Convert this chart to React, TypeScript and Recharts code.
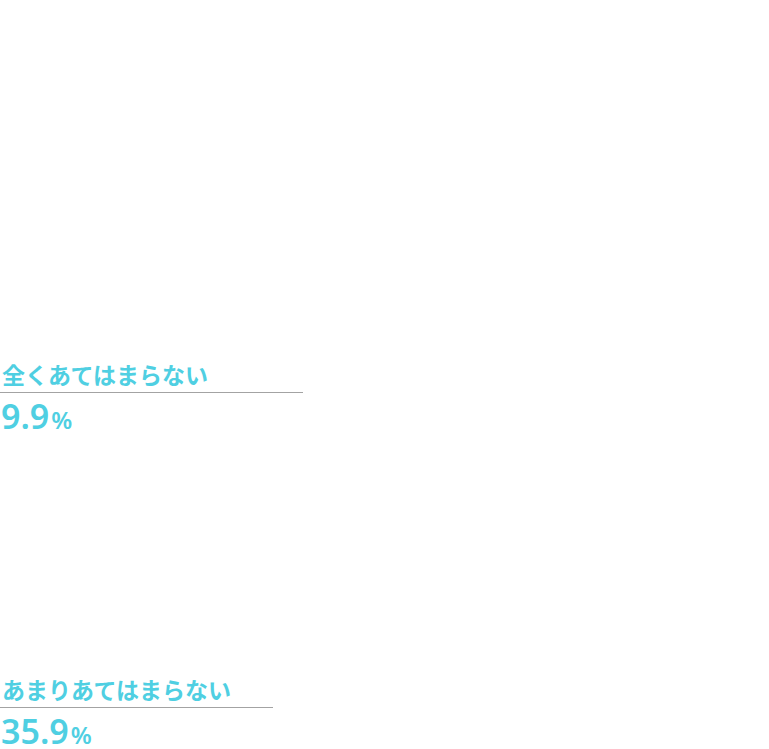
import { BarChart, Bar, XAxis, YAxis, LabelList } from 'recharts';

// only two answers are visible in the reference
const categories = ['全くあてはまらない', 'あまりあてはまらない'];
const shares = [9.9, 35.9];

// leader line length for each row (px)
const lineLengths = [303, 273];

const data = categories.map((name, i) => ({ name, value: shares[i] }));

const CYAN = '#4fcfe2';
const FONT = "'Noto Sans CJK JP', 'Noto Sans', sans-serif";

function RowLabel(props: any) {
    const { y, height, value, index } = props;
    // the bar fills its whole band, so the band's bottom is y + height
    const lineY = Math.round(y + height) + 0.5;
    return (
        <g>
            <text x={2} y={lineY - 9} fill={CYAN} fontSize={23} fontWeight={700} fontFamily={FONT}>
                {categories[index]}
            </text>
            <line x1={0} x2={lineLengths[index]} y1={lineY} y2={lineY} stroke="#a3a3a3" strokeWidth={1} />
            <text x={1} y={lineY + 36} fill={CYAN} fontFamily="'Noto Sans', sans-serif" fontWeight={600}>
                <tspan fontSize={34}>{value.toFixed(1)}</tspan>
                <tspan fontSize={24} dx={2}>%</tspan>
            </text>
        </g>
    );
}

export default function App() {
    return (
        <div style={{ position: 'absolute', left: 0, top: 0, width: 769, height: 749, background: '#fff' }}>
            <BarChart
                width={769}
                height={749}
                data={data}
                layout="vertical"
                barCategoryGap={0}
                margin={{ top: 77, right: 0, bottom: 42, left: 0 }}
            >
                <XAxis type="number" domain={[0, 100]} hide />
                <YAxis type="category" dataKey="name" hide />
                <Bar dataKey="value" fill="#ffffff" isAnimationActive={false}>
                    <LabelList dataKey="value" content={<RowLabel />} />
                </Bar>
            </BarChart>
        </div>
    );
}
